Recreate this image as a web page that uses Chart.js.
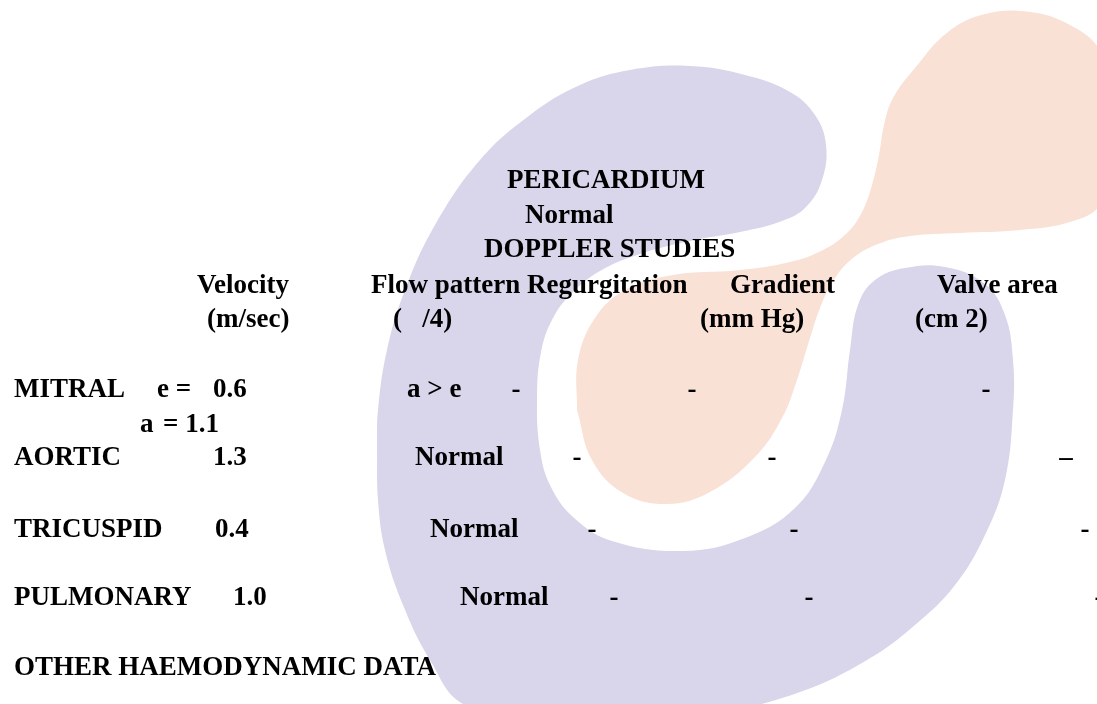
<!DOCTYPE html>
<html>
<head>
<meta charset="utf-8">
<script src="https://cdn.jsdelivr.net/npm/chart.js@4.4.1/dist/chart.umd.min.js"></script>
<style>
  html, body { margin: 0; padding: 0; background: #ffffff; overflow: hidden; }
  #wrap { width: 1097px; height: 704px; }
</style>
</head>
<body>
<div id="wrap"><canvas id="c" width="1097" height="704"></canvas></div>
<script>
// ---------------- DATA ----------------
const headerLines   = ['PERICARDIUM', 'Normal', 'DOPPLER STUDIES'];
const columnHeads   = ['Velocity', 'Flow pattern', 'Regurgitation', 'Gradient', 'Valve area'];
const columnUnits   = ['(m/sec)', '(   /4)', '', '(mm Hg)', '(cm 2)'];
const valves        = ['MITRAL', 'AORTIC', 'TRICUSPID', 'PULMONARY'];
const velocities    = ['0.6', '1.3', '0.4', '1.0'];
const mitralELabel  = 'e =';
const mitralA       = ['a', '= 1.1'];
const flowPatterns  = ['a > e', 'Normal', 'Normal', 'Normal'];
const regurgitation = ['-', '-', '-', '-'];
const gradients     = ['-', '-', '-', '-'];
const valveAreas    = ['-', '\u2013', '-', '-'];
const footerLine    = 'OTHER HAEMODYNAMIC DATA';

// ---------------- LAYOUT (page coordinates) ----------------
const headerX       = [507, 525, 484];
const headerBase    = [188, 223, 257];
const columnHeadX   = [197, 371, 527, 730, 937];
const columnHeadBase = 293;
const columnUnitX   = [207, 393, 0, 700, 915];
const columnUnitBase = 327;
const rowBase       = [397, 465, 537, 605];
const valveX        = 14;
const velocityX     = [213, 213, 215, 233];
const mitralEX      = 157;
const mitralAX      = [140, 163];
const mitralABase   = 432;
const flowX         = [407, 415, 430, 460];
const regurgCX      = [516, 577, 592, 614];
const gradientCX    = [692, 772, 794, 809];
const valveAreaCX   = [986, 1066, 1085, 1099];
const footerX       = 14;
const footerBase    = 675;

// watermark outlines (decorative background shapes)
const logoRing = [
  {x:377,y:450},{x:378,y:410},{x:387,y:350},{x:405,y:290},{x:435,y:225},{x:480,y:160},
  {x:530,y:115},{x:580,y:85},{x:630,y:70},{x:690,y:66},{x:745,y:75},{x:790,y:92},
  {x:815,y:115},{x:826,y:145},{x:822,y:180},{x:806,y:207},{x:782,y:221},{x:740,y:232},
  {x:690,y:241},{x:640,y:254},{x:600,y:271},{x:572,y:293},{x:553,y:318},{x:541,y:352},
  {x:537,y:400},{x:540,y:450},{x:550,y:485},{x:573,y:517},{x:612,y:541},{x:683,y:551},
  {x:745,y:538},{x:795,y:508},{x:825,y:462},{x:842,y:410},{x:850,y:350},{x:858,y:305},
  {x:875,y:280},{x:905,y:268},{x:945,y:267},{x:985,y:284},{x:1005,y:315},{x:1013,y:360},
  {x:1013,y:410},{x:1005,y:480},{x:985,y:535},{x:955,y:585},{x:915,y:625},{x:867,y:660},
  {x:800,y:692},{x:720,y:712},{x:620,y:718},{x:530,y:716},{x:463,y:704},{x:430,y:660},
  {x:403,y:605},{x:385,y:550},{x:378,y:500},{x:377,y:450}
];
const logoDrop = [
  {x:577,y:410},{x:578,y:360},{x:595,y:318},{x:625,y:290},{x:673,y:275},{x:740,y:270},
  {x:790,y:262},{x:823,y:250},{x:847,y:233},{x:862,y:212},{x:872,y:185},{x:879,y:155},
  {x:884,y:125},{x:893,y:98},{x:915,y:68},{x:948,y:32},{x:985,y:14},{x:1030,y:12},
  {x:1070,y:25},{x:1100,y:50},{x:1118,y:100},{x:1118,y:150},{x:1100,y:205},{x:1070,y:222},
  {x:1020,y:230},{x:960,y:233},{x:910,y:236},{x:878,y:244},{x:853,y:258},{x:835,y:278},
  {x:822,y:303},{x:810,y:338},{x:797,y:380},{x:782,y:418},{x:755,y:457},{x:710,y:492},
  {x:667,y:504},{x:623,y:493},{x:592,y:460},{x:577,y:410}
];

// ---------------- TEXT PLUGIN ----------------
const reportText = {
  id: 'reportText',
  afterDatasetsDraw(chart) {
    const {ctx, scales: {x, y}} = chart;
    ctx.save();
    ctx.fillStyle = '#000000';
    ctx.font = 'bold 27px "Liberation Serif", "Times New Roman", serif';
    ctx.textBaseline = 'alphabetic';
    const put = (t, px, py, align) => {
      if (!t) return;
      ctx.textAlign = align || 'left';
      ctx.fillText(t, x.getPixelForValue(px), y.getPixelForValue(py));
    };
    headerLines.forEach((t, i) => put(t, headerX[i], headerBase[i]));
    columnHeads.forEach((t, i) => put(t, columnHeadX[i], columnHeadBase));
    columnUnits.forEach((t, i) => put(t, columnUnitX[i], columnUnitBase));
    valves.forEach((t, i) => {
      put(t, valveX, rowBase[i]);
      put(velocities[i], velocityX[i], rowBase[i]);
      put(flowPatterns[i], flowX[i], rowBase[i]);
      put(regurgitation[i], regurgCX[i], rowBase[i], 'center');
      put(gradients[i], gradientCX[i], rowBase[i], 'center');
      put(valveAreas[i], valveAreaCX[i], rowBase[i], 'center');
    });
    put(mitralELabel, mitralEX, rowBase[0]);
    put(mitralA[0], mitralAX[0], mitralABase);
    put(mitralA[1], mitralAX[1], mitralABase);
    put(footerLine, footerX, footerBase);
    ctx.restore();
  }
};

// ---------------- CHART ----------------
const shapeDataset = (data, color) => ({
  data: data,
  showLine: true,
  fill: 'shape',
  backgroundColor: color,
  borderColor: color,
  borderWidth: 0,
  pointRadius: 0,
  pointHoverRadius: 0,
  tension: 0.4,
  capBezierPoints: false
});

new Chart(document.getElementById('c'), {
  type: 'scatter',
  data: {
    datasets: [
      shapeDataset(logoRing, 'rgb(217,213,234)'),
      shapeDataset(logoDrop, 'rgb(250,225,214)')
    ]
  },
  options: {
    responsive: false,
    animation: false,
    events: [],
    layout: { padding: 0 },
    scales: {
      x: { type: 'linear', min: 0, max: 1097, display: false },
      y: { type: 'linear', min: 0, max: 704, reverse: true, display: false }
    },
    plugins: { legend: { display: false }, tooltip: { enabled: false } }
  },
  plugins: [reportText]
});
</script>
</body>
</html>
